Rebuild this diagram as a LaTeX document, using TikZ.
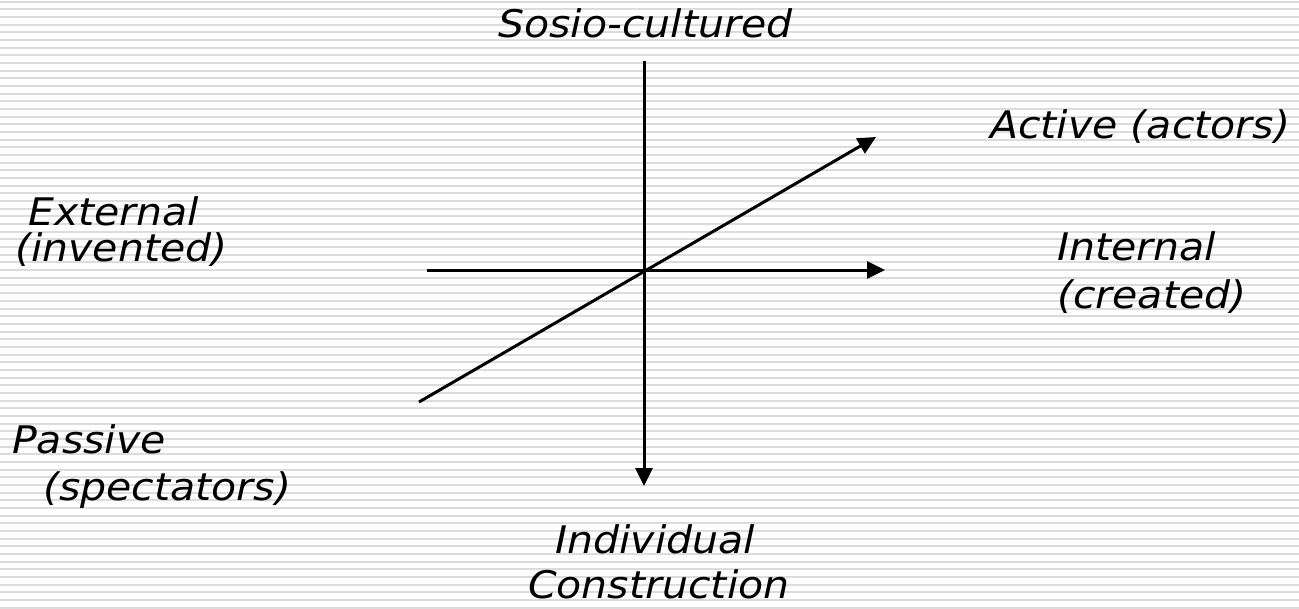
\documentclass[tikz,border=0pt]{standalone}
\usepackage{fontspec}
\usetikzlibrary{arrows.meta}
\newfontfamily\lblfont[FakeStretch=1.08]{DejaVu Sans}
\definecolor{stripe}{HTML}{DCDCDC}
\begin{document}
\begin{tikzpicture}[x=1pt,y=-1pt,
  axis/.style={line width=3pt,line cap=butt},
  arr/.style={axis,-{Triangle[length=18pt,width=17pt]}},
  lbl/.style={inner sep=0pt,anchor=base west,font=\lblfont\itshape\fontsize{38}{44}\selectfont}]
\useasboundingbox (0,0) rectangle (1299,608);
\fill[white] (0,0) rectangle (1299,608);
\foreach \i in {0,...,79}{
  \fill[stripe] (0,{0.7+\i*7.67}) rectangle (1299,{2.7+\i*7.67});
}
% axis points
\coordinate (O) at (644,270);
\coordinate (vtop) at (644,61);
\coordinate (vbot) at (644,486);
\coordinate (hl) at (427,270);
\coordinate (hr) at (885,270);
\coordinate (dl) at (419,402);
\coordinate (dr) at (876,137);
\draw[arr] (vtop) -- (vbot);
\draw[arr] (hl) -- (hr);
\draw[arr] (dl) -- (dr);
% labels
\node[lbl] (soc) at (498,37) {Sosio-cultured};
\node[lbl] (act) at (990,138) {Active (actors)};
\node[lbl] (ext1) at (28,225) {External};
\node[lbl] (ext2) at (15,261) {(invented)};
\node[lbl] (int1) at (1057,260) {Internal};
\node[lbl] (int2) at (1057,308) {(created)};
\node[lbl] (pas1) at (12,453) {Passive};
\node[lbl] (pas2) at (43,500) {(spectators)};
\node[lbl] (ind1) at (555,553) {Individual};
\node[lbl] (ind2) at (528,598) {Construction};
\end{tikzpicture}
\end{document}
